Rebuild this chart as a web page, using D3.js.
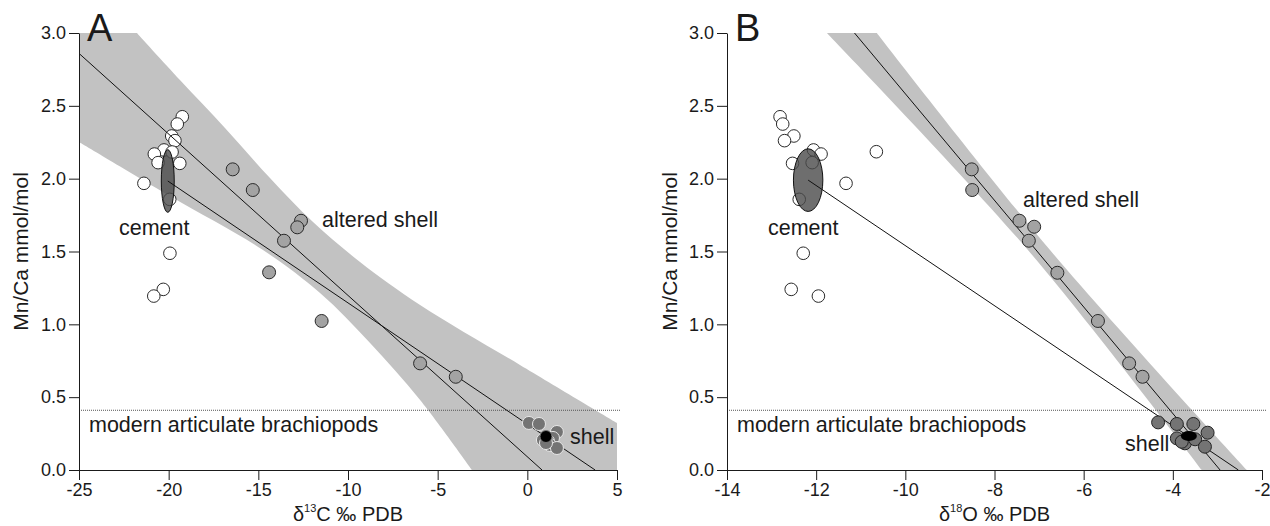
<!DOCTYPE html>
<html><head><meta charset="utf-8">
<script src="https://cdn.jsdelivr.net/npm/d3@7"></script>
<style>
body{margin:0;background:#fff}
svg{display:block}
text{font-family:"Liberation Sans",Arial,Helvetica,sans-serif;fill:#1a1a1a}
</style>
</head><body>
<svg id="chart" width="1270" height="526"></svg>
<script>
// ---------------- DATA ----------------
const yTicks = [0, 0.5, 1.0, 1.5, 2.0, 2.5, 3.0];
const xTicksA = [-25, -20, -15, -10, -5, 0, 5];
const xTicksB = [-14, -12, -10, -8, -6, -4, -2];
const modernLimit = 0.41;

// Panel A: d13C vs Mn/Ca
const cementA = [[-19.24,2.425],[-19.52,2.375],[-19.83,2.293],[-19.65,2.261],[-20.26,2.197],[-19.81,2.183],
  [-20.80,2.169],[-20.59,2.110],[-19.38,2.105],[-21.38,1.968],[-19.94,1.858],[-19.93,1.488],[-20.30,1.240],[-20.83,1.194]];
const alteredA = [[-16.43,2.064],[-15.31,1.922],[-12.62,1.711],[-12.83,1.666],[-13.57,1.574],[-14.40,1.357],
  [-11.47,1.023],[-5.98,0.732],[-3.99,0.640]];
const shellA = [[0.09,0.323],[0.65,0.316],[1.65,0.261],[1.43,0.220],[1.15,0.199],[1.26,0.172],[1.65,0.151],[0.87,0.206],[1.04,0.185]];
const shellMeanA = [1.04, 0.23];
const cementEllipseA = {cx:-20.05, cy:1.984, rx:0.36, ry:0.215};
const regLineA = [[-25,2.86],[0.82,0]];
const mixLineA = [[-20.05,1.984],[3.78,0]];
const bandUpperA = [[-21.77,3.0],[-19.37,2.677],[-16.86,2.348],[-14.35,2.005],[-11.95,1.702],[-9.33,1.428],[-5.98,1.133],[-0.41,0.721],[5,0.323]];
const bandLowerA = [[-25,2.252],[-19.93,1.881],[-14.74,1.510],[-11.56,1.215],[-8.77,0.872],[-5.98,0.481],[-3.08,0]];

// Panel B: d18O vs Mn/Ca
const cementB = [[-12.81,2.425],[-12.75,2.375],[-12.50,2.293],[-12.71,2.261],[-12.06,2.197],[-11.89,2.169],
  [-12.53,2.105],[-12.09,2.110],[-10.65,2.185],[-11.33,1.968],[-12.38,1.858],[-12.29,1.488],[-12.56,1.240],[-11.95,1.194]];
const alteredB = [[-8.51,2.064],[-8.50,1.922],[-7.44,1.711],[-7.11,1.670],[-7.23,1.574],[-6.59,1.354],
  [-5.68,1.023],[-4.98,0.732],[-4.68,0.640]];
const shellB = [[-4.33,0.327],[-3.91,0.316],[-3.54,0.316],[-3.22,0.256],[-3.91,0.217],[-3.73,0.183],[-3.50,0.211],[-3.28,0.160],[-3.80,0.194]];
const shellMeanB = [-3.64, 0.233];
const cementEllipseB = {cx:-12.18, cy:1.99, rx:0.33, ry:0.215};
const regLineB = [[-11.14,3.0],[-2.94,0]];
const mixLineB = [[-12.18,1.99],[-2.53,0]];
const bandLeftB = [[-11.76,3.0],[-7.25,1.51],[-3.35,0]];
const bandRightB = [[-10.64,3.0],[-6.755,1.51],[-2.34,0]];

// ---------------- LAYOUT ----------------
const svg = d3.select("#chart");
const y = d3.scaleLinear().domain([0,3]).range([470,33]);
const xA = d3.scaleLinear().domain([-25,5]).range([79,617]);
const xB = d3.scaleLinear().domain([-14,-2]).range([727,1262]);

const C = {band:"#c2c2c2", altered:"#a3a3a3", shell:"#747474", stroke:"#2a2a2a", ellipse:"#4a4a4a"};

function drawPanel(g, x, o){
  const line = d3.line().x(d=>x(d[0])).y(d=>y(d[1]));
  // band
  g.append("path").attr("d", o.bandPath(x)).attr("fill", C.band).attr("stroke","none");
  // modern limit
  g.append("line").attr("x1", x.range()[0]).attr("x2", x.range()[1]+4)
    .attr("y1", y(modernLimit)).attr("y2", y(modernLimit))
    .attr("stroke","#555").attr("stroke-width",1).attr("stroke-dasharray","1,1");
  // cement points
  g.selectAll(".cem").data(o.cement).join("circle")
    .attr("cx",d=>x(d[0])).attr("cy",d=>y(d[1])).attr("r",6.3)
    .attr("fill","#fff").attr("stroke",C.stroke).attr("stroke-width",1);
  // ellipse
  const e = o.ellipse;
  g.append("ellipse").attr("cx",x(e.cx)).attr("cy",y(e.cy))
    .attr("rx", Math.abs(x(e.cx+e.rx)-x(e.cx))).attr("ry", Math.abs(y(e.cy+e.ry)-y(e.cy)))
    .attr("fill",C.ellipse).attr("fill-opacity",0.8).attr("stroke","#111").attr("stroke-width",1);
  // lines
  [o.reg, o.mix].forEach(l => g.append("path").attr("d", line(l)).attr("fill","none").attr("stroke","#111").attr("stroke-width",1));
  // altered
  g.selectAll(".alt").data(o.altered).join("circle")
    .attr("cx",d=>x(d[0])).attr("cy",d=>y(d[1])).attr("r",6.5)
    .attr("fill",C.altered).attr("stroke",C.stroke).attr("stroke-width",1);
  // shell
  g.selectAll(".sh").data(o.shell).join("circle")
    .attr("cx",d=>x(d[0])).attr("cy",d=>y(d[1])).attr("r",6.5)
    .attr("fill",C.shell).attr("stroke",o.shellStroke).attr("stroke-width",1);
  // mean
  if (o.meanEllipse) {
    g.append("ellipse").attr("cx",x(o.mean[0])).attr("cy",y(o.mean[1])).attr("rx",8).attr("ry",5).attr("fill","#000");
  } else {
    g.append("circle").attr("cx",x(o.mean[0])).attr("cy",y(o.mean[1])).attr("r",6).attr("fill","#000").attr("stroke","#777");
  }
  // axes
  const ax = g.append("g").attr("transform",`translate(0,${y(0)})`)
    .call(d3.axisBottom(x).tickValues(o.xTicks).tickFormat(d=>String(d)).tickSize(10).tickSizeOuter(0).tickPadding(3));
  const ay = g.append("g").attr("transform",`translate(${x.range()[0]},0)`)
    .call(d3.axisLeft(y).tickValues(yTicks).tickFormat(d3.format(".1f")).tickSize(10).tickSizeOuter(0).tickPadding(3));
  [ax, ay].forEach(a => {
    a.selectAll("path,line").attr("stroke","#1a1a1a").attr("stroke-width",1);
    a.selectAll("text").attr("font-size",18).attr("fill","#1a1a1a").attr("font-family",'"Liberation Sans",Arial,sans-serif');
  });
  // panel letter
  g.append("text").attr("x", x.range()[0]+8).attr("y", 41).attr("font-size",38).text(o.letter);
  // y title
  g.append("text").attr("transform",`translate(${o.yTitleX},${(y(0)+y(3))/2}) rotate(-90)`)
    .attr("text-anchor","middle").attr("font-size",21).text("Mn/Ca mmol/mol");
  // x title
  const t = g.append("text").attr("x",(x.range()[0]+x.range()[1])/2).attr("y",521).attr("text-anchor","middle").attr("font-size",20);
  t.append("tspan").text("δ");
  t.append("tspan").attr("font-size",11).attr("dy",-9).text(o.iso);
  t.append("tspan").attr("dy",9).text(o.elem + " ‰ PDB");
  // annotations
  o.labels.forEach(l => g.append("text").attr("x",l.px).attr("y",l.py).attr("font-size",21.5).text(l.t));
}

function bandAPath(x){
  const c = d3.line().x(d=>x(d[0])).y(d=>y(d[1])).curve(d3.curveCatmullRom.alpha(0.5));
  const up = c(bandUpperA);
  const low = c(bandLowerA.slice().reverse());
  return `M${x(-25)},${y(3)}L` + up.slice(1) + `L${x(5)},${y(0)}L` + low.slice(1) + "Z";
}
function bandBPath(x){
  const c = d3.line().x(d=>x(d[0])).y(d=>y(d[1])).curve(d3.curveCatmullRom.alpha(0.5));
  return c(bandLeftB) + "L" + c(bandRightB.slice().reverse()).slice(1) + "Z";
}

const gA = svg.append("g"), gB = svg.append("g");
drawPanel(gA, xA, {
  bandPath: bandAPath,
  cement: cementA, altered: alteredA, shell: shellA, mean: shellMeanA, meanEllipse:false,
  ellipse: cementEllipseA, reg: regLineA, mix: mixLineA, xTicks: xTicksA, shellStroke:"#e8e8e8",
  letter:"A", yTitleX: 28, iso:"13", elem:"C",
  labels:[{t:"cement",px:119,py:235},{t:"altered shell",px:322,py:227},{t:"shell",px:570,py:444},{t:"modern articulate brachiopods",px:89,py:432}]
});
drawPanel(gB, xB, {
  bandPath: bandBPath,
  cement: cementB, altered: alteredB, shell: shellB, mean: shellMeanB, meanEllipse:true,
  ellipse: cementEllipseB, reg: regLineB, mix: mixLineB, xTicks: xTicksB, shellStroke:"#222",
  letter:"B", yTitleX: 677, iso:"18", elem:"O",
  labels:[{t:"cement",px:768,py:235},{t:"altered shell",px:1023,py:207},{t:"shell",px:1125,py:451},{t:"modern articulate brachiopods",px:737,py:432}]
});
</script>
</body></html>
